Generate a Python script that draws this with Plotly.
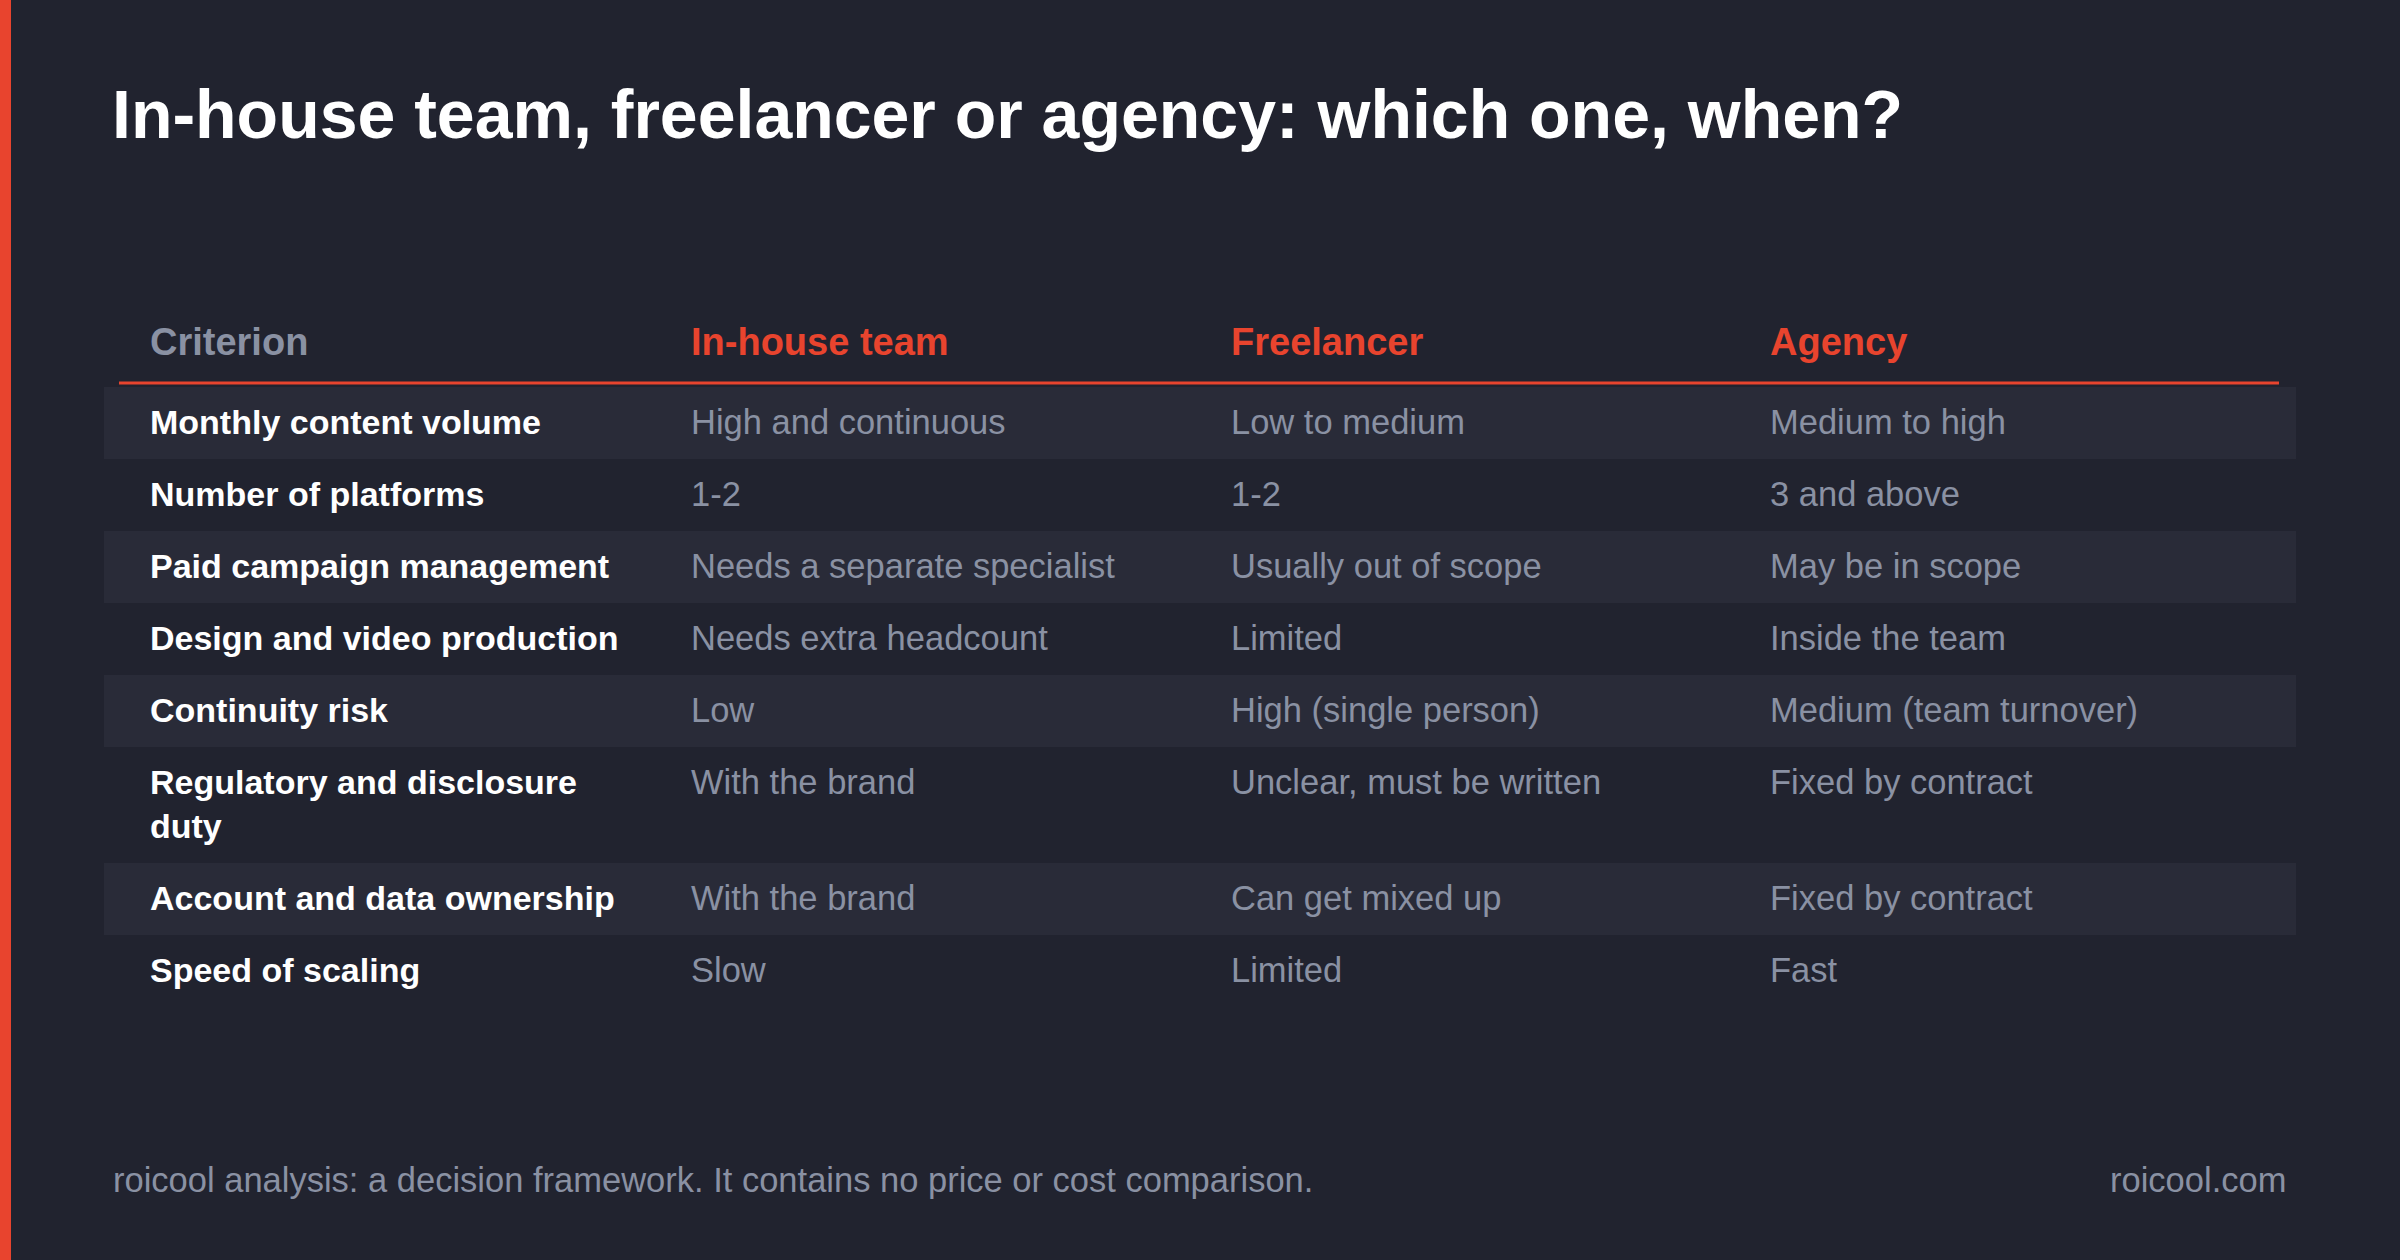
import plotly.graph_objects as go

W, H = 2400, 1260
title = "In-house team, freelancer or agency: which one, when?"
headers = ["Criterion", "In-house team", "Freelancer", "Agency"]
criteria = ["Monthly content volume", "Number of platforms", "Paid campaign management",
            "Design and video production", "Continuity risk", "Regulatory and disclosure<br>duty",
            "Account and data ownership", "Speed of scaling"]
inhouse = ["High and continuous", "1-2", "Needs a separate specialist", "Needs extra headcount",
           "Low", "With the brand", "With the brand", "Slow"]
freelancer = ["Low to medium", "1-2", "Usually out of scope", "Limited",
              "High (single person)", "Unclear, must be written", "Can get mixed up", "Limited"]
agency = ["Medium to high", "3 and above", "May be in scope", "Inside the team",
          "Medium (team turnover)", "Fixed by contract", "Fixed by contract", "Fast"]
row_heights = [72, 72, 72, 72, 72, 116, 72, 72]
footer_left = "roicool analysis: a decision framework. It contains no price or cost comparison."
footer_right = "roicool.com"

BG = "#21232f"; STRIPE = "#292b38"; RED = "#e8442e"; GRAY = "#8a91a3"; WHITE = "#ffffff"
FONT = "Liberation Sans, Arial, sans-serif"
colx = [148, 689, 1229, 1768]

def py(p):
    return 1 - p / H

shapes = [dict(type="rect", xref="paper", yref="paper", x0=0, x1=11 / W, y0=0, y1=1,
               fillcolor=RED, line_width=0)]
ann = []
def text(x, y, s, size, color, bold=False, anchor="left", yanchor="middle"):
    ann.append(dict(xref="paper", yref="paper", x=x / W, y=py(y), text=f"<b>{s}</b>" if bold else s,
                    showarrow=False, xanchor=anchor, yanchor=yanchor, align="left",
                    font=dict(family=FONT, size=size, color=color)))

text(110, 114, title, 68, WHITE, bold=True)
for i, h in enumerate(headers):
    text(colx[i], 342, h, 38, GRAY if i == 0 else RED, bold=True)
shapes.append(dict(type="line", xref="paper", yref="paper", x0=119 / W, x1=2279 / W,
                   y0=py(383), y1=py(383), line=dict(color=RED, width=3)))

top = 387
for r in range(len(criteria)):
    h = row_heights[r]
    if r % 2 == 0:
        shapes.append(dict(type="rect", xref="paper", yref="paper", x0=104 / W, x1=2296 / W,
                           y0=py(top + h), y1=py(top), fillcolor=STRIPE, line_width=0))
    ytop = top + 14
    text(colx[0], ytop, criteria[r], 34, WHITE, bold=True, yanchor="top")
    for c, col in enumerate([inhouse, freelancer, agency]):
        text(colx[c + 1], ytop, col[r], 34.5, GRAY, yanchor="top")
    top += h

text(111, 1180, footer_left, 34.5, GRAY)
text(2288, 1180, footer_right, 34.5, GRAY, anchor="right")

fig = go.Figure()
fig.update_layout(width=W, height=H, margin=dict(l=0, r=0, t=0, b=0),
                  paper_bgcolor=BG, plot_bgcolor=BG, shapes=shapes, annotations=ann,
                  xaxis=dict(visible=False), yaxis=dict(visible=False))
fig.write_html("out.html", config={"displayModeBar": False},
               post_script="document.body.style.margin='0';document.body.style.background='#21232f';")
